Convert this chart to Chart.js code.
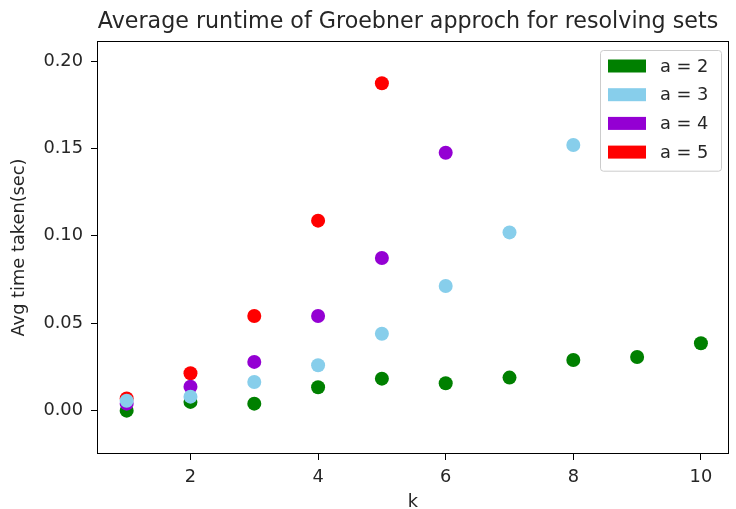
<!DOCTYPE html>
<html>
<head>
<meta charset="utf-8">
<script src="https://cdn.jsdelivr.net/npm/chart.js@4/dist/chart.umd.min.js"></script>
<style>
  html, body { margin: 0; padding: 0; background: #fff; }
  #wrap { width: 736px; height: 509px; }
</style>
</head>
<body>
<div id="wrap"><canvas id="chart" width="736" height="509"></canvas></div>
<script>
// values
const kA2 = [1, 2, 3, 4, 5, 6, 7, 8, 9, 10];
const timeA2 = [0.000, 0.005, 0.004, 0.0134, 0.0183, 0.0157, 0.0189, 0.029, 0.0307, 0.0386];
const kA3 = [1, 2, 3, 4, 5, 6, 7, 8];
const timeA3 = [0.0057, 0.008, 0.0164, 0.026, 0.044, 0.0713, 0.102, 0.152];
const kA4 = [1, 2, 3, 4, 5, 6];
const timeA4 = [0.004, 0.0137, 0.0279, 0.0542, 0.0873, 0.1476];
const kA5 = [1, 2, 3, 4, 5];
const timeA5 = [0.007, 0.0214, 0.0542, 0.1087, 0.1873];

const seriesLabels = ['a = 2', 'a = 3', 'a = 4', 'a = 5'];
const seriesColors = ['#008000', '#87ceeb', '#9400d3', '#ff0000'];
const xTicks = [2, 4, 6, 8, 10];
const yTicks = [0.00, 0.05, 0.10, 0.15, 0.20];
const chartTitle = 'Average runtime of Groebner approch for resolving sets';

const FONT = "'DejaVu Sans', sans-serif";
const TEXT = '#262626';

function points(xs, ys) {
  return xs.map((x, i) => ({ x: x, y: ys[i] }));
}

// title over the axes, frame round the plot area, legend box in the upper right
const framePlugin = {
  id: 'frame',
  afterDatasetsDraw(chart) {
    const { ctx, chartArea: a } = chart;
    ctx.save();
    ctx.strokeStyle = '#000';
    ctx.lineWidth = 1;
    ctx.strokeRect(a.left + 0.5, a.top + 0.5, a.right - a.left - 1, a.bottom - a.top - 1);

    ctx.fillStyle = TEXT;
    ctx.font = '22.2px ' + FONT;
    ctx.textAlign = 'center';
    ctx.textBaseline = 'middle';
    ctx.fillText(chartTitle, (a.left + a.right) / 2 - 5, 22);

    // legend
    const items = chart.data.datasets;
    const boxW = 121, rowH = 28.7;
    const boxH = 34.6 + rowH * (items.length - 1);
    const bx = a.right - 8 - boxW, by = a.top + 9;
    ctx.fillStyle = 'rgba(255,255,255,0.8)';
    ctx.strokeStyle = '#cccccc';
    ctx.beginPath();
    ctx.roundRect(bx + 0.5, by + 0.5, boxW, boxH, 3);
    ctx.fill();
    ctx.stroke();
    ctx.font = '17.8px ' + FONT;
    ctx.textAlign = 'left';
    items.forEach((ds, i) => {
      const cy = by + 16 + i * rowH;
      ctx.fillStyle = ds.backgroundColor;
      ctx.fillRect(bx + 8, cy - 6.5, 38, 13);
      ctx.fillStyle = TEXT;
      ctx.fillText(ds.label, bx + 60, cy + 1);
    });
    ctx.restore();
  }
};

const datasets = [
  { label: seriesLabels[0], data: points(kA2, timeA2), order: 3 },
  { label: seriesLabels[1], data: points(kA3, timeA3), order: 0 },
  { label: seriesLabels[2], data: points(kA4, timeA4), order: 1 },
  { label: seriesLabels[3], data: points(kA5, timeA5), order: 2 }
].map((ds, i) => Object.assign(ds, {
  backgroundColor: seriesColors[i],
  borderColor: seriesColors[i],
  borderWidth: 0,
  pointRadius: 7,
  pointHoverRadius: 7
}));

new Chart(document.getElementById('chart'), {
  type: 'scatter',
  data: { datasets: datasets },
  plugins: [framePlugin],
  options: {
    responsive: false,
    animation: false,
    layout: { padding: { left: 0, right: 4, top: 41, bottom: 0 } },
    plugins: {
      legend: { display: false },
      tooltip: { enabled: false },
      title: { display: false }
    },
    scales: {
      x: {
        type: 'linear',
        min: 0.535,
        max: 10.44,
        afterBuildTicks: s => { s.ticks = xTicks.map(v => ({ value: v })); },
        afterFit: s => { s.height = 55; },
        grid: { drawOnChartArea: false, drawTicks: true, tickLength: 6, color: '#000' },
        border: { display: false },
        ticks: {
          color: TEXT,
          font: { family: FONT, size: 17.8 },
          padding: 7,
          maxRotation: 0,
          callback: v => String(v)
        },
        title: {
          display: true,
          text: 'k',
          color: TEXT,
          font: { family: FONT, size: 17.8, lineHeight: 0.7 },
          padding: { top: 0, bottom: 0 }
        }
      },
      y: {
        type: 'linear',
        min: -0.0248,
        max: 0.2115,
        afterBuildTicks: s => { s.ticks = yTicks.map(v => ({ value: v })); },
        afterFit: s => { s.width = 97; },
        grid: { drawOnChartArea: false, drawTicks: true, tickLength: 6, color: '#000' },
        border: { display: false },
        ticks: {
          color: TEXT,
          font: { family: FONT, size: 17.8 },
          padding: 8,
          callback: v => v.toFixed(2)
        },
        title: {
          display: true,
          text: 'Avg time taken(sec)',
          color: TEXT,
          font: { family: FONT, size: 17.8 },
          padding: { top: 9, bottom: 0 }
        }
      }
    }
  }
});
</script>
</body>
</html>
